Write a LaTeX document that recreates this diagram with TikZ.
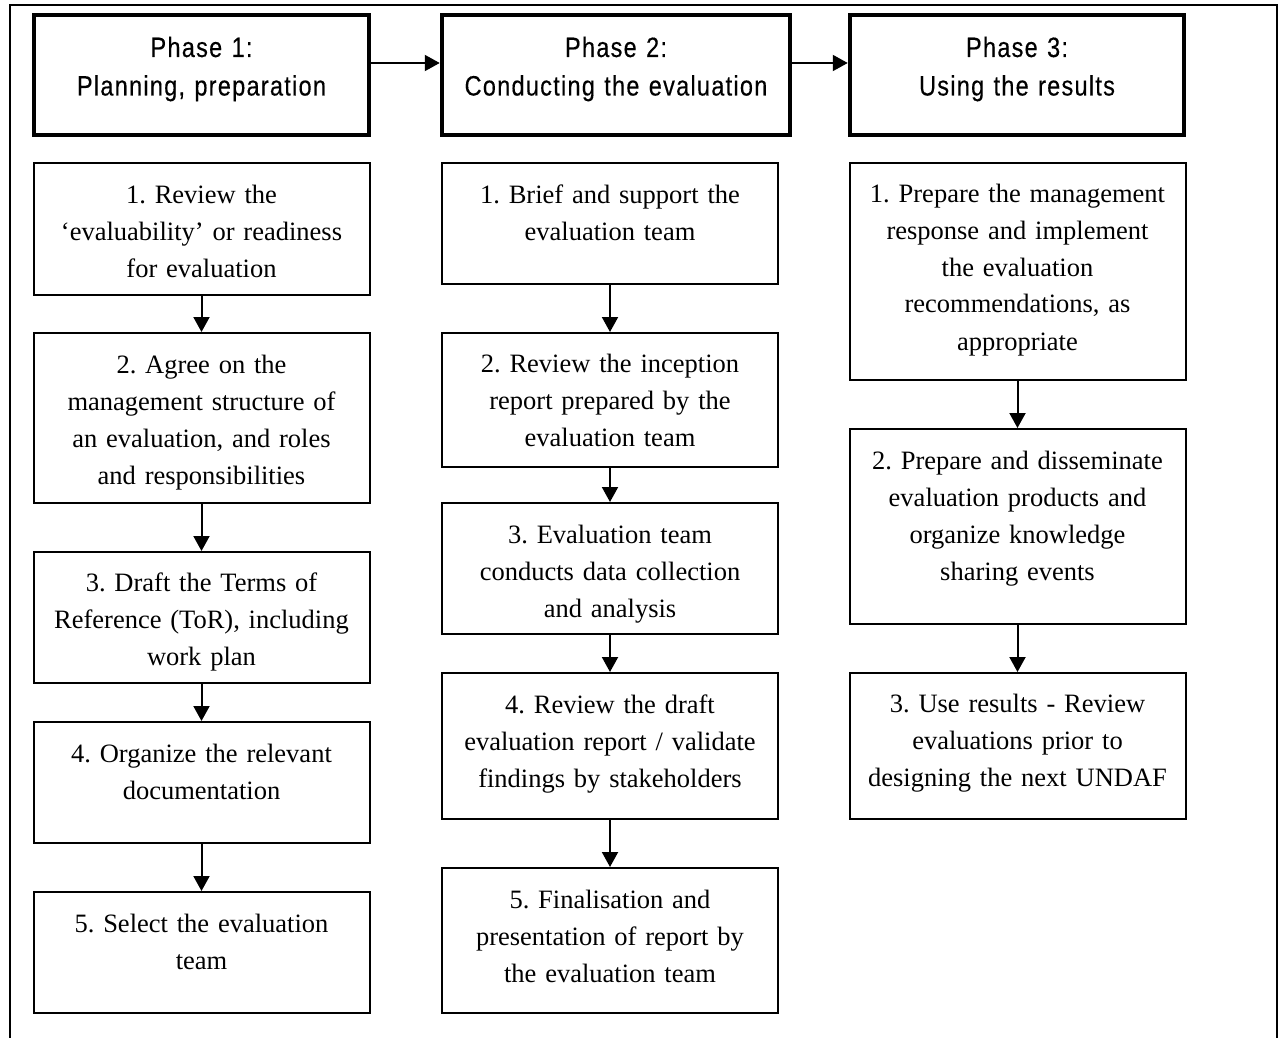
\documentclass[tikz,border=0pt]{standalone}
\usepackage{fontspec}
\setmainfont{Liberation Serif}
\newfontfamily\hdrfont[FakeStretch=0.84,LetterSpace=4.5,FakeBold=0.3]{Liberation Sans}
\usetikzlibrary{arrows.meta}
\frenchspacing
\begin{document}
\begin{tikzpicture}[x=1pt,y=-1pt,
  stepbox/.style={draw, line width=2pt, minimum width=336pt, inner sep=0pt, anchor=north},
  phasebox/.style={draw, line width=4.5pt, inner sep=0pt, minimum height=120pt},
  btext/.style={anchor=base, text width=330pt, align=center, inner sep=0pt, font=\frenchspacing\fontsize{26.5}{37}\selectfont},
  htext/.style={anchor=base, text width=340pt, align=center, inner sep=0pt, font=\hdrfont\fontsize{28}{38.5}\selectfont},
  arr/.style={line width=2pt, -{Triangle[width=16pt,length=15pt]}},
]
\useasboundingbox (0,0) rectangle (1280,1038);
\draw[line width=2.5pt] (10,1040) -- (10,5) -- (1277,5) -- (1277,1040);

% phase headers
\node[phasebox, minimum width=335pt] (p1) at (201.5,75) {};
\node[phasebox, minimum width=348pt] (p2) at (616,75) {};
\node[phasebox, minimum width=334pt] (p3) at (1017,75) {};
\node[htext] (p1t) at (201.5,57) {Phase 1:\\Planning, preparation};
\node[htext] (p2t) at (616,57) {Phase 2:\\Conducting the evaluation};
\node[htext] (p3t) at (1017,57) {Phase 3:\\Using the results};
\draw[arr] ([yshift=12pt]p1.east) -- ([yshift=12pt]p2.west);
\draw[arr] ([yshift=12pt]p2.east) -- ([yshift=12pt]p3.west);

% column 1
\node[stepbox, minimum height=132pt] (a1) at (201.5,162) {};
\node[stepbox, minimum height=170pt] (a2) at (201.5,332) {};
\node[stepbox, minimum height=131pt] (a3) at (201.5,551) {};
\node[stepbox, minimum height=121pt] (a4) at (201.5,721) {};
\node[stepbox, minimum height=121pt] (a5) at (201.5,891) {};
\node[btext] (a1t) at ([yshift=-41pt]a1.north) {1. Review the\\‘evaluability’ or readiness\\for evaluation};
\node[btext] (a2t) at ([yshift=-41pt]a2.north) {2. Agree on the\\management structure of\\an evaluation, and roles\\and responsibilities};
\node[btext] (a3t) at ([yshift=-40pt]a3.north) {3. Draft the Terms of\\Reference (ToR), including\\work plan};
\node[btext] (a4t) at ([yshift=-41pt]a4.north) {4. Organize the relevant\\documentation};
\node[btext] (a5t) at ([yshift=-41pt]a5.north) {5. Select the evaluation\\team};
\draw[arr] (a1) -- (a2);
\draw[arr] (a2) -- (a3);
\draw[arr] (a3) -- (a4);
\draw[arr] (a4) -- (a5);

% column 2
\node[stepbox, minimum height=121pt] (b1) at (610,162) {};
\node[stepbox, minimum height=134pt] (b2) at (610,332) {};
\node[stepbox, minimum height=131pt] (b3) at (610,502) {};
\node[stepbox, minimum height=146pt] (b4) at (610,672) {};
\node[stepbox, minimum height=145pt] (b5) at (610,867) {};
\node[btext] (b1t) at ([yshift=-41pt]b1.north) {1. Brief and support the\\evaluation team};
\node[btext] (b2t) at ([yshift=-40pt]b2.north) {2. Review the inception\\report prepared by the\\evaluation team};
\node[btext] (b3t) at ([yshift=-41pt]b3.north) {3. Evaluation team\\conducts data collection\\and analysis};
\node[btext] (b4t) at ([yshift=-41pt]b4.north) {4. Review the draft\\evaluation report / validate\\findings by stakeholders};
\node[btext] (b5t) at ([yshift=-41pt]b5.north) {5. Finalisation and\\presentation of report by\\the evaluation team};
\draw[arr] (b1) -- (b2);
\draw[arr] (b2) -- (b3);
\draw[arr] (b3) -- (b4);
\draw[arr] (b4) -- (b5);

% column 3
\node[stepbox, minimum height=217pt] (c1) at (1017.5,162) {};
\node[stepbox, minimum height=195pt] (c2) at (1017.5,428) {};
\node[stepbox, minimum height=146pt] (c3) at (1017.5,672) {};
\node[btext] (c1t) at ([yshift=-40pt]c1.north) {1. Prepare the management\\response and implement\\the evaluation\\recommendations, as\\appropriate};
\node[btext] (c2t) at ([yshift=-41pt]c2.north) {2. Prepare and disseminate\\evaluation products and\\organize knowledge\\sharing events};
\node[btext] (c3t) at ([yshift=-40pt]c3.north) {3. Use results - Review\\evaluations prior to\\designing the next UNDAF};
\draw[arr] (c1) -- (c2);
\draw[arr] (c2) -- (c3);
\end{tikzpicture}
\end{document}
